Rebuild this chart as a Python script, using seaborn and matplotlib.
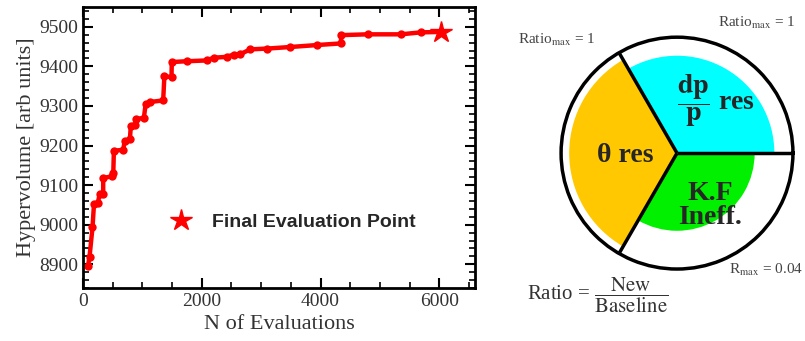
import numpy as np
import pandas as pd
import matplotlib
matplotlib.use("Agg")
import matplotlib.pyplot as plt
import seaborn as sns
from matplotlib.lines import Line2D
from matplotlib.ticker import MultipleLocator

# Hypervolume vs number of evaluations
evals = [85, 110, 160, 185, 250, 280, 340, 340, 480, 510,
         520, 675, 705, 790, 805, 875, 900, 1025, 1055, 1125,
         1350, 1370, 1490, 1495, 1745, 2080, 2200, 2420, 2535, 2650,
         2815, 3100, 3490, 3945, 4340, 4350, 4790, 5350, 5690, 6020]
hypervolume = [8896, 8919, 8993, 9052, 9055, 9077, 9078, 9118, 9122, 9130,
               9187, 9189, 9212, 9216, 9250, 9252, 9267, 9270, 9305, 9310,
               9314, 9375, 9373, 9411, 9413, 9415, 9422, 9424, 9430, 9431,
               9443, 9445, 9449, 9454, 9458, 9479, 9481, 9481, 9486, 9487]
final_point = (6030, 9488)

x_ticks = [0, 2000, 4000, 6000]
y_ticks = [8900, 9000, 9100, 9200, 9300, 9400, 9500]

# Pie-like diagram: three 120 degree sectors, radius = ratio
sector_names = ["dp/p res", "theta res", "K.F Ineff."]
sector_ratio = [0.84, 0.93, 0.67]
sector_colors = ["#00FFFF", "#FFC800", "#00F000"]

sns.set_theme(style="white")
plt.rcParams["font.family"] = ["Liberation Serif", "DejaVu Serif"]
plt.rcParams["mathtext.fontset"] = "stix"

df = pd.DataFrame({"evals": evals, "hv": hypervolume})

fig = plt.figure(figsize=(8.05, 3.41), dpi=100)
ax = fig.add_axes([0.1031, 0.1554, 0.487, 0.824])

sns.lineplot(data=df, x="evals", y="hv", ax=ax, color="red", linewidth=3.2,
             marker="o", markersize=6, markeredgewidth=0, sort=False,
             estimator=None)
ax.plot(*final_point, marker="*", color="red", markersize=16, linestyle="none")

ax.set_xlim(0, 6600)
ax.set_ylim(8840, 9550)
ax.set_xticks(x_ticks)
ax.set_yticks(y_ticks)
ax.xaxis.set_minor_locator(MultipleLocator(500))
ax.yaxis.set_minor_locator(MultipleLocator(20))
ax.tick_params(which="both", direction="in", top=True, right=True,
               bottom=True, left=True, color="black")
ax.tick_params(which="major", length=7, width=1.5, labelsize=14,
               labelcolor="#333333")
ax.tick_params(which="minor", length=4, width=1.2)
for s in ax.spines.values():
    s.set_linewidth(2)
    s.set_color("black")
ax.set_xlabel("N of Evaluations", fontsize=16, color="#333333", labelpad=4)
ax.set_ylabel("Hypervolume [arb units]", fontsize=16, color="#333333",
              labelpad=2)

handle = Line2D([0], [0], marker="*", color="red", markersize=16,
                linestyle="none")
ax.legend(handles=[handle], labels=["Final Evaluation Point"],
          loc="center left", bbox_to_anchor=(0.226, 0.235), frameon=False,
          borderpad=0, borderaxespad=0, handlelength=1.0, handletextpad=1.1,
          prop={"family": "Liberation Sans", "weight": "bold", "size": 14})

# right diagram
pax = fig.add_axes([0.697, 0.211, 0.288, 0.680], projection="polar")
width = 2 * np.pi / len(sector_ratio)
centers = [width / 2 + i * width for i in range(len(sector_ratio))]
pax.bar(centers, sector_ratio, width=width, color=sector_colors,
        edgecolor="none", align="center")
for i in range(len(sector_ratio)):
    edge = i * width
    pax.plot([edge, edge], [0, 1], color="black", linewidth=2.5,
             solid_capstyle="butt")
pax.set_ylim(0, 1)
pax.set_xticks([])
pax.set_yticks([])
pax.grid(False)
pax.spines["polar"].set_linewidth(2.5)
pax.spines["polar"].set_color("black")

pax.text(0.668, 0.728, r"$\dfrac{\mathbf{dp}}{\mathbf{p}}$ res",
         transform=pax.transAxes, ha="center", va="center", fontsize=20,
         fontweight="bold")
pax.text(0.276, 0.491, "θ res", transform=pax.transAxes, ha="center",
         va="center", fontsize=20, fontweight="bold")
pax.text(0.642, 0.276, "K.F\nIneff.", transform=pax.transAxes, ha="center",
         va="center", fontsize=20, fontweight="bold", linespacing=0.95)

small = dict(ha="center", va="center", fontsize=11, color="#444444")
fig.text(0.691, 0.883, r"Ratio$_{\rm max}$ = 1", **small)
fig.text(0.940, 0.933, r"Ratio$_{\rm max}$ = 1", **small)
fig.text(0.952, 0.208, r"R$_{\rm max}$ = 0.04", **small)
fig.text(0.742, 0.135, r"Ratio = $\dfrac{\rm New}{\rm Baseline}$",
         ha="center", va="center", fontsize=15, color="#333333")

fig.savefig("out.png", dpi=100)
